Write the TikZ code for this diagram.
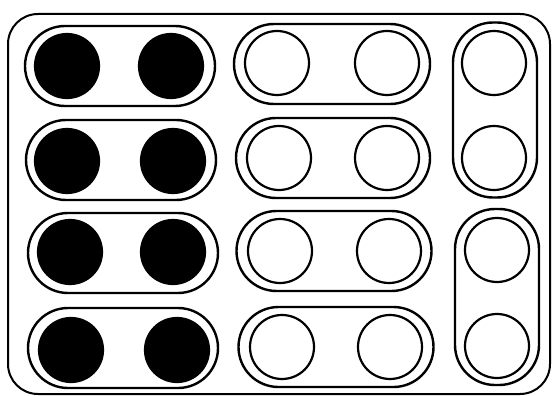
\documentclass[tikz,border=0pt]{standalone}
\begin{document}
\begin{tikzpicture}[x=1pt,y=-1pt,
  frame/.style={draw, line width=2pt, rounded corners=30pt},
  pill/.style={draw, line width=2.4pt, rectangle, rounded corners=40pt, inner sep=0pt, minimum width=190pt, minimum height=80pt},
  vpill/.style={draw, line width=2.4pt, rectangle, rounded corners=40pt, inner sep=0pt, minimum width=84pt, minimum height=176pt},
  hole/.style={draw, line width=2.2pt, circle, inner sep=0pt, minimum size=64pt},
  full/.style={hole, fill=black}]
\useasboundingbox (0,0) rectangle (552,396);
\draw[frame] (8,14) rectangle (550,394);
% left column
\node[pill] (L1) at (120,66) {};
\node[pill] (L2) at (121,160) {};
\node[pill] (L3) at (123,253) {};
\node[pill] (L4) at (123,348) {};
\node[full] (l1a) at (67,66) {};  \node[full] (l1b) at (171,66) {};
\node[full] (l2a) at (67,161) {}; \node[full] (l2b) at (173,161) {};
\node[full] (l3a) at (70,252) {}; \node[full] (l3b) at (173,252) {};
\node[full] (l4a) at (71,350) {}; \node[full] (l4b) at (177,350) {};
% middle column
\node[pill, minimum width=196pt] (M1) at (332,64) {};
\node[pill, minimum width=194pt] (M2) at (333,158) {};
\node[pill, minimum width=195pt] (M3) at (334,251) {};
\node[pill, minimum width=195pt] (M4) at (336,347) {};
\node[hole] (m1a) at (277,63) {};  \node[hole] (m1b) at (387,63) {};
\node[hole] (m2a) at (279,158) {}; \node[hole] (m2b) at (387,158) {};
\node[hole] (m3a) at (280,251) {}; \node[hole] (m3b) at (389,251) {};
\node[hole] (m4a) at (282,347) {}; \node[hole] (m4b) at (390,347) {};
% right column
\node[vpill, minimum height=175pt] (R1) at (495,110) {};
\node[vpill] (R2) at (497,297) {};
\node[hole] (r1a) at (494,63) {};  \node[hole] (r1b) at (494,158) {};
\node[hole] (r2a) at (497,250) {}; \node[hole] (r2b) at (497,346) {};
\end{tikzpicture}
\end{document}
